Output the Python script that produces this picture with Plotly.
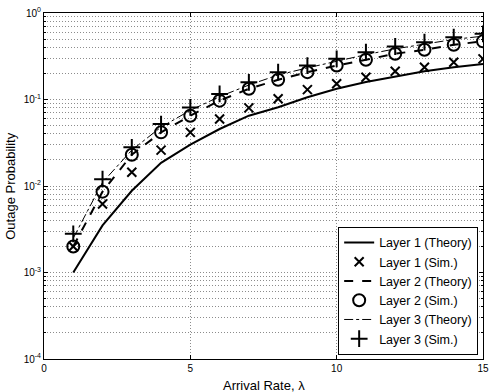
import plotly.graph_objects as go

lam = list(range(1, 16))

# theory curves
l1_theory = [0.0010, 0.0035, 0.0088, 0.0185, 0.030, 0.0456, 0.065, 0.0815, 0.106, 0.133, 0.159, 0.185, 0.212, 0.236, 0.258]
l2_theory = [0.0020, 0.0086, 0.023, 0.0417, 0.065, 0.097, 0.133, 0.169, 0.207, 0.247, 0.288, 0.338, 0.376, 0.43, 0.47]
l3_theory = [0.0025, 0.0110, 0.026, 0.048, 0.075, 0.108, 0.147, 0.192, 0.232, 0.277, 0.330, 0.385, 0.435, 0.495, 0.54]

# simulation points
l1_sim = [0.0020, 0.0062, 0.0144, 0.026, 0.0417, 0.0594, 0.080, 0.102, 0.130, 0.152, 0.181, 0.212, 0.236, 0.27, 0.295]
l2_sim = [0.0020, 0.0086, 0.023, 0.0417, 0.065, 0.097, 0.133, 0.169, 0.207, 0.247, 0.288, 0.338, 0.376, 0.43, 0.47]
l3_sim = [0.0028, 0.012, 0.028, 0.052, 0.081, 0.116, 0.158, 0.207, 0.247, 0.295, 0.352, 0.41, 0.46, 0.525, 0.575]

y_major = [1e-4, 1e-3, 1e-2, 1e-1, 1e0]
y_labels = ["10<sup>-4</sup>", "10<sup>-3</sup>", "10<sup>-2</sup>", "10<sup>-1</sup>", "10<sup>0</sup>"]
y_minor = [m * 10 ** e for e in range(-4, 0) for m in range(2, 10)]

grid = "#8c8c8c"
dots = "1px,2px"

fig = go.Figure()
fig.add_trace(go.Scatter(x=lam, y=l1_theory, mode="lines", name="Layer 1 (Theory)",
                         line=dict(color="black", width=2)))
fig.add_trace(go.Scatter(x=lam, y=l1_sim, mode="markers", name="Layer 1 (Sim.)",
                         marker=dict(symbol="x-thin-open", size=9, color="black",
                                     line=dict(color="black", width=2))))
fig.add_trace(go.Scatter(x=lam, y=l2_theory, mode="lines", name="Layer 2 (Theory)",
                         line=dict(color="black", width=2, dash="dash")))
fig.add_trace(go.Scatter(x=lam, y=l2_sim, mode="markers", name="Layer 2 (Sim.)",
                         marker=dict(symbol="circle-open", size=12, color="black",
                                     line=dict(color="black", width=2))))
fig.add_trace(go.Scatter(x=lam, y=l3_theory, mode="lines", name="Layer 3 (Theory)",
                         line=dict(color="black", width=1, dash="dashdot")))
fig.add_trace(go.Scatter(x=lam, y=l3_sim, mode="markers", name="Layer 3 (Sim.)",
                         marker=dict(symbol="cross-thin-open", size=12, color="black",
                                     line=dict(color="black", width=2))))

fig.update_xaxes(
    range=[0, 15], tickvals=[0, 5, 10, 15], showline=True, mirror="ticks",
    linecolor="black", linewidth=1, ticks="inside", ticklen=4, tickcolor="black",
    showgrid=True, gridcolor=grid, griddash=dots, gridwidth=1, zeroline=False,
    tickfont=dict(size=10, color="black"), automargin=False,
)
fig.update_yaxes(
    type="log", range=[-4, 0], tickvals=y_major, ticktext=y_labels, showline=True,
    mirror="ticks", linecolor="black", linewidth=1, ticks="inside", ticklen=4,
    tickcolor="black", showgrid=True, gridcolor=grid, griddash=dots, gridwidth=1,
    minor=dict(tickvals=y_minor, showgrid=True, gridcolor=grid, griddash=dots,
               ticks="inside", ticklen=2, tickcolor="black"),
    zeroline=False, tickfont=dict(size=10, color="black"), automargin=False,
)
fig.add_annotation(text="Arrival Rate, λ", xref="paper", yref="paper", x=0.5, y=-0.05,
                   xanchor="center", yanchor="top", showarrow=False,
                   font=dict(size=13, color="black"))
fig.add_annotation(text="Outage Probability", xref="paper", yref="paper", x=-0.078, y=0.5,
                   xanchor="center", yanchor="middle", textangle=-90, showarrow=False,
                   font=dict(size=13, color="black"))
fig.update_layout(
    width=498, height=392, margin=dict(l=44, r=15, t=13, b=33),
    paper_bgcolor="white", plot_bgcolor="white",
    font=dict(family="Liberation Sans, Arial, sans-serif", color="black"),
    legend=dict(x=0.989, y=0.012, xanchor="right", yanchor="bottom",
                bgcolor="white", bordercolor="black", borderwidth=1,
                font=dict(size=12.5, color="black"), tracegroupgap=0,
                itemwidth=30),
)
fig.write_html("out.html", config={"displayModeBar": False},
               post_script="document.body.style.margin='0';")
